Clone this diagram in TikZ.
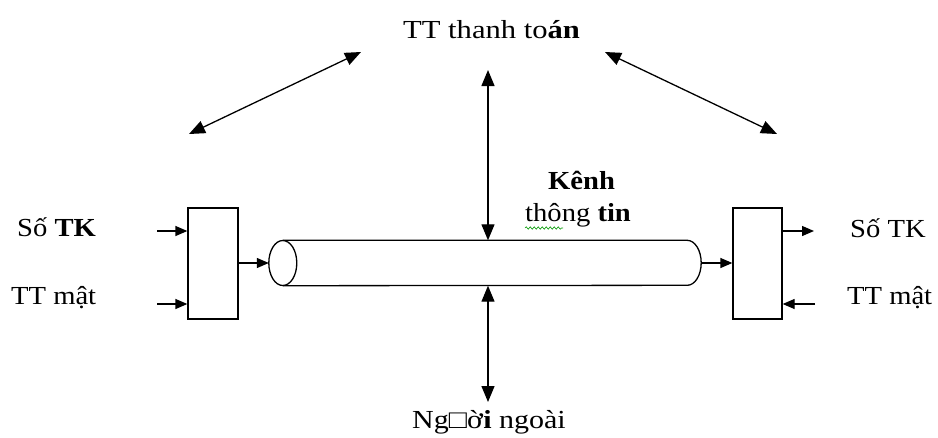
\documentclass[tikz,border=0pt]{standalone}
\usepackage{fontspec}
\setmainfont{Liberation Serif}[FakeStretch=1.1]
\usetikzlibrary{arrows.meta,decorations.pathmorphing}
\begin{document}
\begin{tikzpicture}[x=1pt,y=-1pt,
  lbl/.style={inner sep=0pt,anchor=base west,font=\fontsize{26}{30}\selectfont},
  unit/.style={draw,line width=1.3pt,minimum width=50pt,minimum height=111pt,inner sep=0pt},
  small/.style={line width=1.3pt,-{Triangle[length=12pt,width=10pt]}},
  big/.style={line width=1.3pt,{Triangle[length=16pt,width=13pt]}-{Triangle[length=16pt,width=13pt]}}]
\useasboundingbox (0,0) rectangle (938,437);

% sender and receiver units
\node[unit] (src) at (213,263.5) {};
\node[unit,minimum width=49pt] (dst) at (757.5,263.5) {};

% the channel, drawn as a horizontal cylinder
\node[minimum width=432pt,minimum height=45pt,inner sep=0pt] (kenh) at (485,263) {};
\draw[line width=1.3pt] ([xshift=14pt]kenh.west) ellipse [x radius=14pt,y radius=22.5pt];
\draw[line width=1.3pt] ([xshift=14pt]kenh.north west) -- ([xshift=-14pt]kenh.north east)
  arc[start angle=90,end angle=-90,x radius=14pt,y radius=22.5pt]
  -- ([xshift=14pt]kenh.south west);

% labels
\node[lbl] (soL) at (17,236) {Số \textbf{TK}};
\node[lbl] (ttL) at (11,304) {TT mật};
\node[lbl] (soR) at (850,237) {Số TK};
\node[lbl] (ttR) at (847,304) {TT mật};
\node[lbl,transform shape,xscale=1.07] (pay) at (403,38) {TT thanh to\textbf{án}};
\node[lbl] (k1) at (548,189) {\textbf{Kênh}};
\node[lbl] (k2) at (525,221) {thông \textbf{tin}};
\node[lbl,transform shape,xscale=1.05] (out) at (412,428) {Ng□ờ\textbf{i} ngoài};

% spell-check squiggle under one word
\draw[green!60!black,line width=0.6pt,decorate,decoration={snake,amplitude=1.2pt,segment length=4pt}]
  (k2.base west) ++(0,7) -- ++(38,0);

% inputs and outputs of the units
\coordinate (inA) at (157,231);
\coordinate (inB) at (157,304);
\coordinate (outA) at (814,231);
\coordinate (inC) at (815,304);
\draw[small] (inA) -- (inA -| src.west);
\draw[small] (inB) -- (inB -| src.west);
\draw[small] (src.east |- kenh.west) -- (kenh.west);
\draw[small] (kenh.east) -- (kenh.east -| dst.west);
\draw[small] (outA -| dst.east) -- (outA);
\draw[small] (inC) -- (inC -| dst.east);

% links to the payment centre and to outsiders
\coordinate (dl1) at (189,134);
\coordinate (dl2) at (361,52);
\coordinate (dr1) at (605,52);
\coordinate (dr2) at (777,134);
\coordinate (vt) at (488,70);
\coordinate (vb) at (488,402);
\draw[big] (dl1) -- (dl2);
\draw[big] (dr1) -- (dr2);
\draw[big] (vt) -- (vt |- kenh.north);
\draw[big] (vb |- kenh.south) -- (vb);
\end{tikzpicture}
\end{document}
